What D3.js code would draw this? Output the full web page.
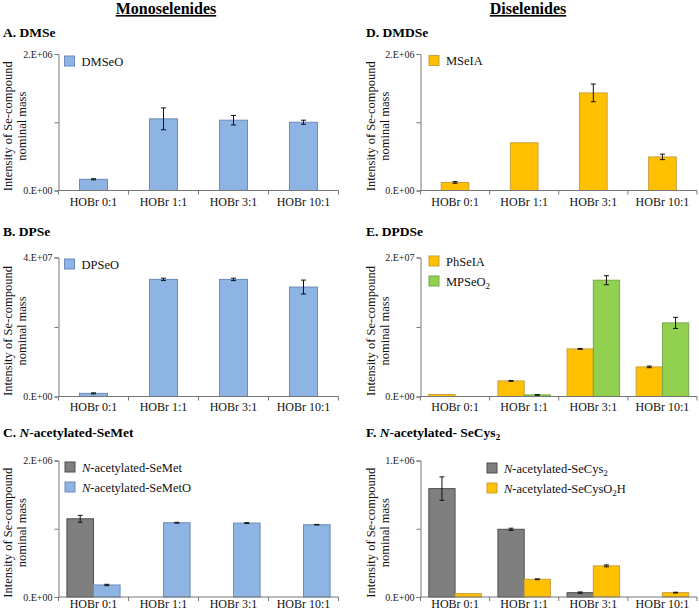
<!DOCTYPE html>
<html><head><meta charset="utf-8">
<script src="https://cdn.jsdelivr.net/npm/d3@7"></script>
</head><body style="margin:0">
<svg id="c" width="699" height="613"></svg>
<script>
const categories = ["HOBr 0:1","HOBr 1:1","HOBr 3:1","HOBr 10:1"];
// A. DMSe
const dmseo = [0.164e6, 1.05e6, 1.03e6, 1.0e6];
const dmseoErr = [0.008e6, 0.16e6, 0.07e6, 0.03e6];
// B. DPSe
const dpseo = [0.9e6, 3.37e7, 3.37e7, 3.15e7];
const dpseoErr = [0.15e6, 0.35e6, 0.35e6, 2.0e6];
// C. N-acetylated-SeMet
const semet = [1.146e6, 0, 0, 0];
const semetErr = [0.05e6, 0, 0, 0];
const semeto = [0.176e6, 1.088e6, 1.083e6, 1.059e6];
const semetoErr = [0.01e6, 0.006e6, 0.006e6, 0.004e6];
// D. DMDSe
const mseia = [0.118e6, 0.699e6, 1.43e6, 0.492e6];
const mseiaErr = [0.012e6, 0, 0.13e6, 0.04e6];
// E. DPDSe
const phseia = [0.29e6, 2.24e6, 6.85e6, 4.26e6];
const phseiaErr = [0, 0.06e6, 0.06e6, 0.12e6];
const mpseo2 = [0, 0.23e6, 16.73e6, 10.59e6];
const mpseo2Err = [0, 0.05e6, 0.65e6, 0.8e6];
// F. N-acetylated-SeCys2
const secys2 = [0.794e6, 0.496e6, 0.032e6, 0];
const secys2Err = [0.086e6, 0.008e6, 0.005e6, 0];
const secyso2h = [0.025e6, 0.13e6, 0.228e6, 0.032e6];
const secyso2hErr = [0, 0.003e6, 0.007e6, 0.003e6];
// y axis maxima and tick labels
const yMax = {A:2e6, B:4e7, C:2e6, D:2e6, E:2e7, F:1e6};
const yTopLabels = {A:"2.E+06", B:"4.E+07", C:"2.E+06", D:"2.E+06", E:"2.E+07", F:"1.E+06"};
const yZeroLabel = "0.E+00";

const COL = {
  blue:{fill:"#8db4e2", stroke:"#6a8cbc"},
  orange:{fill:"#ffc000", stroke:"#c9a040"},
  green:{fill:"#92d050", stroke:"#75a84a"},
  gray:{fill:"#7f7f7f", stroke:"#4f4f4f"}
};
const SERIF = '"Liberation Serif"';

const svg = d3.select("#c");
function txt(parent){ return parent.append("text").style("font-family",SERIF,"important"); }

// Section headers
[["Monoselenides",166],["Diselenides",528]].forEach(([t,x])=>{
  txt(svg).attr("x",x).attr("y",14).attr("text-anchor","middle")
    .style("font-size","16px").style("font-weight","bold").style("text-decoration","underline").text(t);
});

function panel(cfg){
  const {x0,x1,top,base,key,series,titleX,titleY,title,legendX,legendY,labelY,axLabelX} = cfg;
  const g = svg.append("g");
  const x = d3.scaleBand().domain(categories).range([x0,x1])
      .paddingInner(series.length===1?0.6:0.24).paddingOuter(series.length===1?0.3:0.12);
  const xs = d3.scaleBand().domain(series.map((s,i)=>i)).range([0,x.bandwidth()]).padding(0);
  const y = d3.scaleLinear().domain([0,yMax[key]]).range([base,top]);

  // title
  const tt = txt(g).attr("x",titleX).attr("y",titleY).style("font-size","13.5px").style("font-weight","bold");
  title.forEach(p=>{ const s=tt.append("tspan").text(p.t); if(p.i) s.style("font-style","italic"); if(p.sub) s.style("font-size","9px").attr("dy",3); if(p.after) s.attr("dy",-3);});

  // y axis label
  const cy = (top+base)/2 + 4;
  ["Intensity of Se-compound","nominal mass"].forEach((t,i)=>{
    txt(g).attr("transform",`translate(${axLabelX + i*14},${cy}) rotate(-90)`)
      .attr("text-anchor","middle").style("font-size","12.5px").attr("fill","#111").text(t);
  });

  // bars
  series.forEach((s,si)=>{
    g.selectAll(null).data(s.values).enter().append("rect")
      .attr("x",(d,i)=>x(categories[i])+xs(si))
      .attr("y",d=>y(d)).attr("width",xs.bandwidth()).attr("height",d=>base-y(d))
      .attr("fill",COL[s.color].fill).attr("stroke",d=>d>0?COL[s.color].stroke:"none").attr("stroke-width",1);
    s.values.forEach((v,i)=>{
      const e = s.err[i]; if(!e || !v) return;
      const cx = x(categories[i])+xs(si)+xs.bandwidth()/2;
      const ya = y(v+e), yb = y(Math.max(0,v-e));
      g.append("line").attr("x1",cx).attr("x2",cx).attr("y1",ya).attr("y2",yb).attr("stroke","#111").attr("stroke-width",1);
      [ya,yb].forEach(yy=>g.append("line").attr("x1",cx-2.5).attr("x2",cx+2.5).attr("y1",yy).attr("y2",yy).attr("stroke","#111").attr("stroke-width",1));
    });
  });

  // y axis
  const yAx = d3.axisLeft(y).tickValues([0,yMax[key]/2,yMax[key]]).tickSize(4)
     .tickFormat(d=> d===0?yZeroLabel : (d===yMax[key]?yTopLabels[key]:""));
  const ya = g.append("g").attr("transform",`translate(${x0},0)`).call(yAx);
  ya.attr("font-family",null).attr("font-size",null);
  ya.select(".domain").attr("stroke","#777");
  ya.selectAll(".tick line").attr("stroke","#777");
  ya.selectAll(".tick text").style("font-family",SERIF,"important").style("font-size","10px").attr("fill","#222").attr("x",-6);

  // x axis
  const xa = g.append("g").attr("transform",`translate(0,${base})`);
  xa.append("line").attr("x1",x0).attr("x2",x1).attr("stroke","#777");
  const bounds = categories.map(c=>x(c)-x.step()*x.paddingInner()/2).concat([x1]);
  xa.selectAll(null).data(bounds).enter().append("line")
    .attr("x1",d=>d).attr("x2",d=>d).attr("y1",0).attr("y2",4).attr("stroke","#777");
  xa.selectAll(null).data(categories).enter().append("text").style("font-family",SERIF,"important")
    .attr("x",c=>x(c)+x.bandwidth()/2).attr("y",labelY).attr("text-anchor","middle")
    .style("font-size","12px").attr("fill","#111").text(c=>c);

  // legend
  series.forEach((s,si)=>{
    const ly = legendY + si*20;
    g.append("rect").attr("x",legendX).attr("y",ly).attr("width",10).attr("height",10)
      .attr("fill",COL[s.color].fill).attr("stroke",COL[s.color].stroke);
    const t = txt(g).attr("x",legendX+17).attr("y",ly+9.5).style("font-size","12.5px").attr("fill","#111");
    s.label.forEach(p=>{ const sp=t.append("tspan").text(p.t); if(p.i) sp.style("font-style","italic"); if(p.sub) sp.style("font-size","9px").attr("dy",3); if(p.after) sp.attr("dy",-3);});
  });
}

const L = {x0:58.5, x1:338.5, axLabelX:12, titleX:3};
const R = {x0:420.5, x1:697, axLabelX:374.5, titleX:366};
const rows = [{top:54,base:190.5,titleY:37,labelY:15.5},{top:257.5,base:396.5,titleY:235.5,labelY:14.5},{top:460.5,base:597,titleY:437,labelY:11}];

panel({...L,...rows[0],key:"A",title:[{t:"A. DMSe"}],legendX:64.5,legendY:56,
  series:[{values:dmseo,err:dmseoErr,color:"blue",label:[{t:"DMSeO"}]}]});
panel({...L,...rows[1],key:"B",title:[{t:"B. DPSe"}],legendX:64.5,legendY:259,
  series:[{values:dpseo,err:dpseoErr,color:"blue",label:[{t:"DPSeO"}]}]});
panel({...L,...rows[2],key:"C",title:[{t:"C. "},{t:"N",i:true},{t:"-acetylated-SeMet"}],legendX:65,legendY:462,
  series:[{values:semet,err:semetErr,color:"gray",label:[{t:"N",i:true},{t:"-acetylated-SeMet"}]},
          {values:semeto,err:semetoErr,color:"blue",label:[{t:"N",i:true},{t:"-acetylated-SeMetO"}]}]});
panel({...R,...rows[0],key:"D",title:[{t:"D. DMDSe"}],legendX:429,legendY:55.5,
  series:[{values:mseia,err:mseiaErr,color:"orange",label:[{t:"MSeIA"}]}]});
panel({...R,...rows[1],key:"E",title:[{t:"E. DPDSe"}],legendX:429,legendY:256,
  series:[{values:phseia,err:phseiaErr,color:"orange",label:[{t:"PhSeIA"}]},
          {values:mpseo2,err:mpseo2Err,color:"green",label:[{t:"MPSeO"},{t:"2",sub:true}]}]});
panel({...R,...rows[2],key:"F",title:[{t:"F. "},{t:"N",i:true},{t:"-acetylated- SeCys"},{t:"2",sub:true}],legendX:487,legendY:463,
  series:[{values:secys2,err:secys2Err,color:"gray",label:[{t:"N",i:true},{t:"-acetylated-SeCys"},{t:"2",sub:true}]},
          {values:secyso2h,err:secyso2hErr,color:"orange",label:[{t:"N",i:true},{t:"-acetylated-SeCysO"},{t:"2",sub:true},{t:"H",after:true}]}]});
</script>
</body></html>
